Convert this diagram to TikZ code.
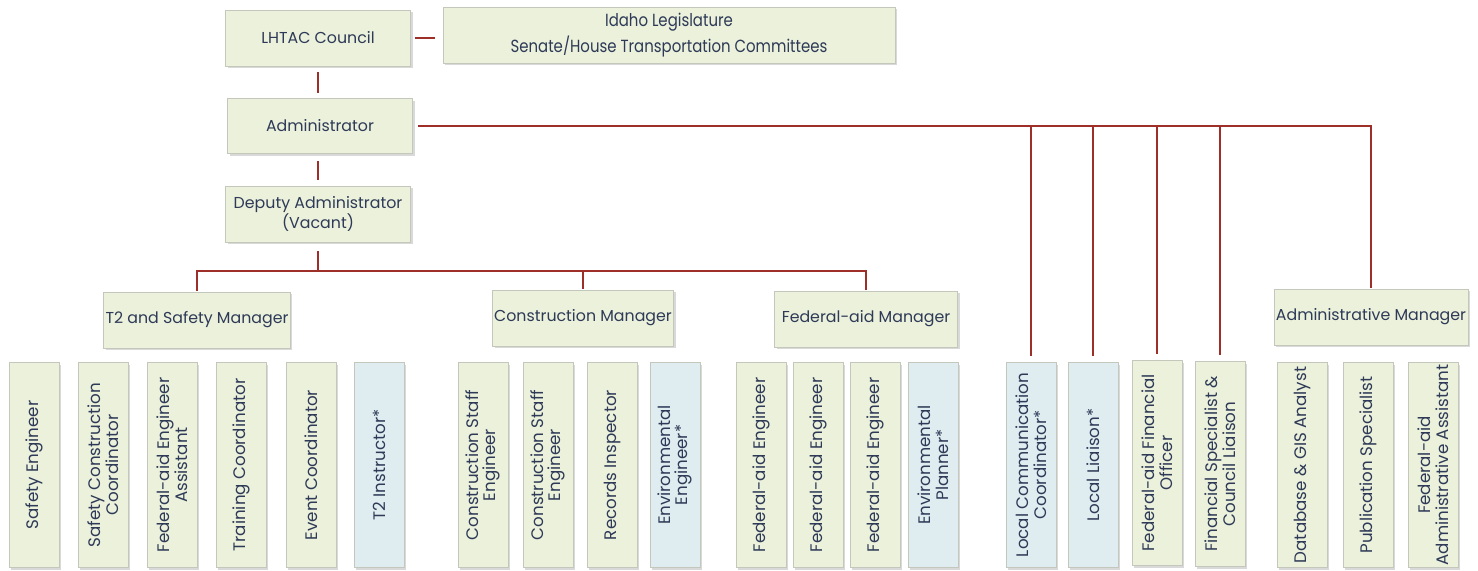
\documentclass[tikz,border=0pt]{standalone}
\usepackage{fontspec}
\setmainfont{Poppins}
\newfontfamily\narrowfont[FakeStretch=0.85]{Poppins}
\usetikzlibrary{positioning,shadows}
\definecolor{ink}{HTML}{2E3A57}
\definecolor{wire}{HTML}{9E2F28}
\definecolor{sage}{HTML}{EBF1DB}
\definecolor{mist}{HTML}{DFEDF0}
\definecolor{edge}{HTML}{C4C8BC}
\tikzset{
  box/.style={draw=edge,fill=sage,align=center,text=ink,inner sep=1pt,
              font=\fontsize{9}{11}\selectfont,
              drop shadow={opacity=0.3,shadow xshift=1.2pt,shadow yshift=-1.2pt,fill=gray}},
  mgr/.style={box,minimum width=3.7cm,minimum height=1.12cm},
  staff/.style={box,rotate=90,minimum width=4.1cm,minimum height=1cm,
                font=\fontsize{9.5}{10}\selectfont},
  vac/.style={staff,fill=mist},
  conn/.style={wire,line width=1.1pt}
}

\begin{document}
\begin{tikzpicture}[x=0.02cm,y=-0.02cm]
    \useasboundingbox (0,0) rectangle (1478,571);
    % top of the chart
    \node[mgr] (lhtac) at (318,38) {LHTAC Council};
    \node[mgr,minimum width=9.04cm,font=\narrowfont\fontsize{10}{15}\selectfont] (legis) at (669,35)
         {Idaho Legislature\\Senate/House Transportation Committees};
    \node[mgr,minimum height=1.1cm] (adm) at (320,126) {Administrator};
    \node[mgr] (dep) at (318,214) {Deputy Administrator\\(Vacant)};
    % managers
    \node[mgr,minimum width=3.68cm] (t2m) at (197,320) {T2 and Safety Manager};
    \node[mgr,minimum width=3.44cm] (cm) at (583,318) {Construction Manager};
    \node[mgr,minimum width=3.66cm] (fam) at (866,319) {Federal-aid Manager};
    \node[mgr] (admm) at (1371,317) {Administrative Manager};
    % staff
    \node[staff] (se)   at (34,465)   {Safety Engineer};
    \node[staff] (scc)  at (103,465)  {Safety Construction\\Coordinator};
    \node[staff] (faea) at (172,465)  {Federal-aid Engineer\\Assistant};
    \node[staff] (tc)   at (241,465)  {Training Coordinator};
    \node[staff] (ec)   at (311,465)  {Event Coordinator};
    \node[vac]   (t2i)  at (379,465)  {T2 Instructor*};
    \node[staff] (cse1) at (483,465)  {Construction Staff\\Engineer};
    \node[staff] (cse2) at (548,465)  {Construction Staff\\Engineer};
    \node[staff] (ri)   at (612,465)  {Records Inspector};
    \node[vac]   (ee)   at (675,465)  {Environmental\\Engineer*};
    \node[staff] (fae1) at (761,465)  {Federal-aid Engineer};
    \node[staff] (fae2) at (818,465)  {Federal-aid Engineer};
    \node[staff] (fae3) at (875,465)  {Federal-aid Engineer};
    \node[vac]   (ep)   at (933,465)  {Environmental\\Planner*};
    \node[vac]   (lcc)  at (1031,465) {Local Communication\\Coordinator*};
    \node[vac]   (ll)   at (1093,465) {Local Liaison*};
    \node[staff] (ffo)  at (1157,463) {Federal-aid Financial\\Officer};
    \node[staff] (fscl) at (1220,464) {Financial Specialist \&\\Council Liaison};
    \node[staff] (db)   at (1302,465) {Database \& GIS Analyst};
    \node[staff] (ps)   at (1368,465) {Publication Specialist};
    \node[staff] (faaa) at (1433,465) {Federal-aid\\Administrative Assistant};
    % connectors
    \draw[conn,shorten <=2.3pt,shorten >=4.5pt] (lhtac.east) -- (lhtac.east -| legis.west);
    \draw[conn,shorten <=3.5pt,shorten >=3pt] (lhtac.south) -- (lhtac.south |- adm.north);
    \draw[conn,shorten <=4pt,shorten >=3pt] (adm.south -| dep.north) -- (dep.north);
    \draw[conn,shorten <=3pt,shorten >=0.5pt] (adm.east) -- (adm.east -| admm.north) -- (admm.north);
    \foreach \s in {lcc,ll,ffo,fscl}
      \draw[conn,shorten >=3.5pt] (\s.east |- adm.east) -- (\s.east);
    \coordinate (dbus) at (318,271);
    \draw[conn,shorten <=5pt] (dep.south) -- (dbus);
    \draw[conn,shorten <=0.5pt,shorten >=0.5pt] (t2m.north) |- (dbus) -| (fam.north);
    \draw[conn,shorten >=0.5pt] (dbus -| cm.north) -- (cm.north);
\end{tikzpicture}
\end{document}
